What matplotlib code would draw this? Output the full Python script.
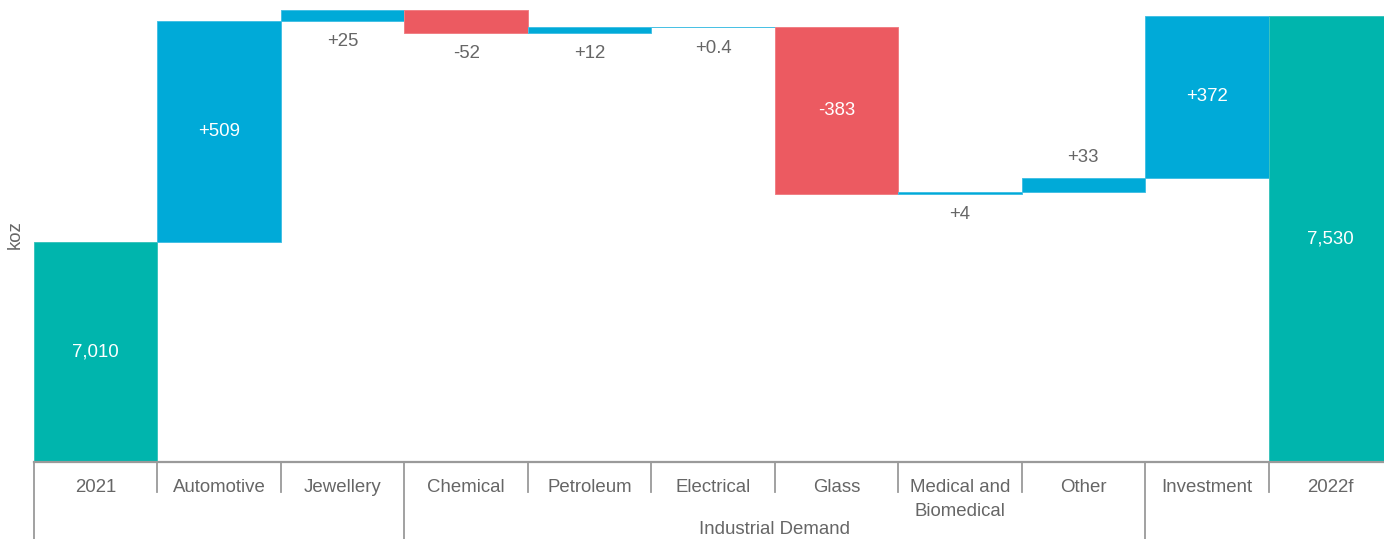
import matplotlib
matplotlib.use("Agg")
import matplotlib.pyplot as plt
import matplotlib.transforms as mtransforms

plt.rcParams['font.family'] = ['Liberation Sans', 'DejaVu Sans']

# ---- data ----
categories = ["2021", "Automotive", "Jewellery", "Chemical", "Petroleum",
              "Electrical", "Glass", "Medical and\nBiomedical", "Other",
              "Investment", "2022f"]
start_value = 7010
deltas = [509, 25, -52, 12, 0.4, -383, 4, 33, 372]
end_value = 7530
group_label = "Industrial Demand"
group_span = (3, 8)          # first and last category index in the group
label_place = ["in", "in", "below", "below", "below", "below", "in",
               "below", "above", "in", "in"]
y_unit = "koz"

# ---- styles ----
TEAL = "#00B5AD"
BLUE = "#00AAD8"
RED = "#EC5A61"
EDGE = {TEAL: "#3cc4bd", BLUE: "#45c0e4", RED: "#f07f84"}
GREY_TXT = "#666666"
LINE = "#9a9a9a"
FS = 13.4

W, H = 1384, 539
fig = plt.figure(figsize=(W / 100, H / 100), dpi=100)
ax_left, ax_right, ax_bottom_px = 34, 1392, 462
ax = fig.add_axes([ax_left / W, 1 - ax_bottom_px / H,
                   (ax_right - ax_left) / W, ax_bottom_px / H])

ymin, ymax = 6504, 7567
n = len(categories)

# compute bars
bottoms, heights, colors, texts = [], [], [], []
bottoms.append(ymin); heights.append(start_value - ymin); colors.append(TEAL)
texts.append(f"{start_value:,}")
level = start_value
for d in deltas:
    if d >= 0:
        bottoms.append(level); heights.append(d); colors.append(BLUE)
    else:
        bottoms.append(level + d); heights.append(-d); colors.append(RED)
    texts.append(f"{d:+g}")
    level += d
bottoms.append(ymin); heights.append(end_value - ymin); colors.append(TEAL)
texts.append(f"{end_value:,}")

xs = list(range(n))
ax.bar(xs, heights, bottom=bottoms, width=1.0, color=colors,
       edgecolor=[EDGE[c] for c in colors], linewidth=0.7, zorder=2)

for x, b, h, t, p in zip(xs, bottoms, heights, texts, label_place):
    if p == "in":
        ax.text(x, b + h / 2, t, ha="center", va="center", color="white",
                fontsize=FS, zorder=3)
    elif p == "below":
        ax.annotate(t, (x, b), xytext=(0, -15), textcoords="offset points",
                    ha="center", va="center", color=GREY_TXT, fontsize=FS)
    else:
        ax.annotate(t, (x, b + h), xytext=(0, 14.3), textcoords="offset points",
                    ha="center", va="center", color=GREY_TXT, fontsize=FS)

ax.set_xlim(-0.5, n - 0.5)
ax.set_ylim(ymin, ymax)
for s in ax.spines.values():
    s.set_visible(False)
ax.set_xticks([]); ax.set_yticks([])

trans = mtransforms.blended_transform_factory(ax.transData, ax.transAxes)
axh = ax_bottom_px
ax.plot([-0.5, n - 0.5], [0, 0], transform=trans, color=LINE, lw=1.6,
        clip_on=False, zorder=4)

long_bounds = {-0.5, group_span[0] - 0.5, group_span[1] + 0.5}
for i in range(n):
    bx = i - 0.5
    if bx in long_bounds:
        y2 = -(H - ax_bottom_px) / axh
    else:
        y2 = -30 / axh
    ax.plot([bx, bx], [0, y2], transform=trans, color=LINE, lw=1.3,
            clip_on=False)

for i, c in enumerate(categories):
    ax.text(i, -17.5 / axh, c, transform=trans, ha="center", va="top",
            color=GREY_TXT, fontsize=FS, linespacing=1.5)

gx = (group_span[0] + group_span[1]) / 2
ax.text(gx, -(H - ax_bottom_px - 1) / axh, group_label, transform=trans,
        ha="center", va="bottom", color=GREY_TXT, fontsize=FS)

fig.text(15 / W, 1 - 235 / H, y_unit, rotation=90, ha="center", va="center",
         color=GREY_TXT, fontsize=FS)

fig.savefig("out.png", dpi=100)
